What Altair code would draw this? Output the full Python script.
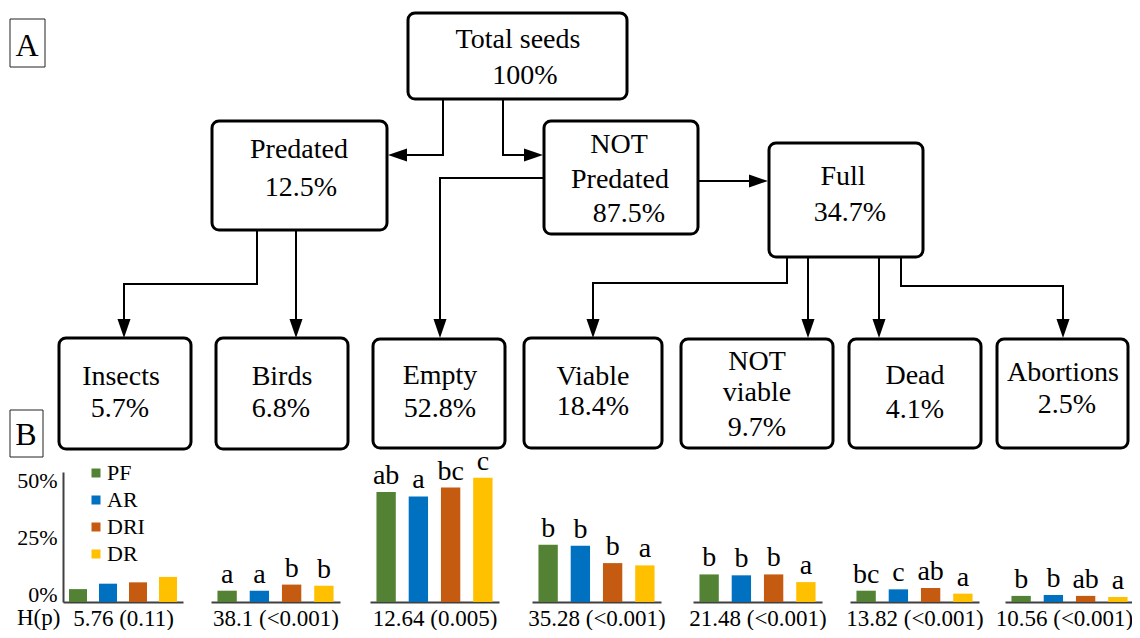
import altair as alt
import pandas as pd

# ---------------- data ----------------
SERIES = ["PF", "AR", "DRI", "DR"]
SERIES_COLORS = ["#548235", "#0070C0", "#C55A11", "#FFC000"]
CATEGORIES = ["Insects", "Birds", "Empty", "Viable", "NOT viable", "Dead", "Abortions"]
VALUES_PF = [5.7, 5.0, 48.7, 25.3, 12.2, 5.0, 2.7]
VALUES_AR = [8.1, 5.0, 46.7, 24.9, 11.8, 5.6, 3.1]
VALUES_DRI = [8.7, 7.7, 50.6, 17.2, 12.2, 6.2, 2.7]
VALUES_DR = [11.1, 7.2, 55.0, 16.2, 8.8, 3.7, 2.2]
LETTERS_PF = ["", "a", "ab", "b", "b", "bc", "b"]
LETTERS_AR = ["", "a", "a", "b", "b", "c", "b"]
LETTERS_DRI = ["", "b", "bc", "b", "b", "ab", "ab"]
LETTERS_DR = ["", "b", "c", "a", "a", "a", "a"]
H_STATS = ["5.76 (0.11)", "38.1 (<0.001)", "12.64 (0.005)", "35.28 (<0.001)",
           "21.48 (<0.001)", "13.82 (<0.001)", "10.56 (<0.001)"]
Y_TICKS = [0, 25, 50]

NODE_NAMES = ["Total seeds", "Predated", "NOT Predated", "Full", "Insects", "Birds",
              "Empty", "Viable", "NOT viable", "Dead", "Abortions"]
NODE_PCTS = [100, 12.5, 87.5, 34.7, 5.7, 6.8, 52.8, 18.4, 9.7, 4.1, 2.5]
PANEL_LABELS = ["A", "B"]

# ---------------- layout (page pixels) ----------------
NODE_BOXES = [
    (408, 627, 13, 99), (212, 387, 121, 230), (544, 698, 121, 234), (769, 923, 143, 257),
    (59, 191, 338, 449), (216, 348, 338, 449), (373, 505, 339, 448), (524, 662, 338, 448),
    (681, 833, 339, 448), (849, 981, 339, 448), (997, 1128, 339, 448),
]
NODE_TEXT_POS = [
    [(518, 48), (525, 84)],
    [(299, 158), (301, 196)],
    [(619, 153), (620, 188), (629, 222)],
    [(843, 185), (850, 221)],
    [(121, 385), (120, 417)],
    [(282, 385), (281, 417)],
    [(440, 384), (440, 417)],
    [(593, 385), (593, 415)],
    [(757, 370), (757, 401), (757, 436)],
    [(915, 384), (915, 418)],
    [(1063, 381), (1067, 413)],
]
PANEL_BOXES = [(10, 45, 19, 67), (10, 43, 410, 457)]
PANEL_TEXT_POS = [(27, 56), (26, 445)]
CONNECTORS = [
    [(443, 99), (443, 155), (395, 155)],
    [(503, 99), (503, 155), (535, 155)],
    [(544, 178), (440, 178), (440, 330)],
    [(698, 181), (760, 181)],
    [(257, 230), (257, 284), (124, 284), (124, 330)],
    [(296, 230), (296, 330)],
    [(787, 257), (787, 283), (593, 283), (593, 330)],
    [(808, 257), (808, 330)],
    [(879, 257), (879, 330)],
    [(901, 257), (901, 286), (1063, 286), (1063, 330)],
]
ARROW_TIPS = [(388, 155, "left"), (543, 155, "right"), (440, 338, "down"), (768, 181, "right"),
              (124, 338, "down"), (296, 338, "down"), (593, 338, "down"), (808, 338, "down"),
              (879, 338, "down"), (1063, 338, "down")]
GROUP_X0 = [63, 211, 370, 532, 693, 850, 1005]
GROUP_W = [120, 129, 129, 129, 129, 129, 129]
STAT_MAX_CENTER = 1064
BASE_Y = 602
TOP_Y = 472
STAT_BASELINE = 625

W, H = 1124, 622
FONT = "Liberation Serif"

PX = alt.Scale(domain=[8, 8 + W], nice=False, zero=False)
PY = alt.Scale(domain=[8, 8 + H], nice=False, zero=False, reverse=True)


def px(f):
    return alt.X(f, type="quantitative", scale=PX, axis=None)


def py(f):
    return alt.Y(f, type="quantitative", scale=PY, axis=None)


# ---------------- diagram tables ----------------
node_box_df = pd.DataFrame(NODE_BOXES, columns=["x0", "x1", "y0", "y1"])
panel_box_df = pd.DataFrame(PANEL_BOXES, columns=["x0", "x1", "y0", "y1"])

text_rows = []
for name, pct, pos in zip(NODE_NAMES, NODE_PCTS, NODE_TEXT_POS):
    lines = name.split(" ", 1) if name.startswith("NOT") else [name]
    lines = lines + [f"{pct:g}%"]
    for ln, (x, y) in zip(lines, pos):
        text_rows.append({"text": ln, "x": x, "y": y})
text_df = pd.DataFrame(text_rows)
panel_text_df = pd.DataFrame([{"text": t, "x": p[0], "y": p[1]} for t, p in zip(PANEL_LABELS, PANEL_TEXT_POS)])

line_rows = []
for i, path in enumerate(CONNECTORS):
    for j, (x, y) in enumerate(path):
        line_rows.append({"path": i, "order": j, "x": x, "y": y})
line_df = pd.DataFrame(line_rows)
arrow_df = pd.DataFrame(ARROW_TIPS, columns=["x", "y", "dir"])

ARROW_SHAPES = {
    "down": "M-0.65,-1.9L0.65,-1.9L0,0Z",
    "left": "M0,0L1.9,-0.65L1.9,0.65Z",
    "right": "M0,0L-1.9,-0.65L-1.9,0.65Z",
}

node_boxes = alt.Chart(node_box_df).mark_rect(
    fill="white", stroke="black", strokeWidth=3, cornerRadius=7
).encode(x=px("x0"), x2="x1", y=py("y0"), y2="y1")

panel_boxes = alt.Chart(panel_box_df).mark_rect(
    fill="white", stroke="#222222", strokeWidth=1
).encode(x=px("x0"), x2="x1", y=py("y0"), y2="y1")

lines = alt.Chart(line_df).mark_line(color="black", strokeWidth=2).encode(
    x=px("x"), y=py("y"), detail="path:N", order="order:Q"
)

arrows = alt.Chart(arrow_df).mark_point(filled=True, color="black", size=400, opacity=1, strokeWidth=0).encode(
    x=px("x"), y=py("y"),
    shape=alt.Shape("dir:N", scale=alt.Scale(domain=list(ARROW_SHAPES.keys()),
                                             range=list(ARROW_SHAPES.values())), legend=None),
)

node_text = alt.Chart(text_df).mark_text(
    font=FONT, fontSize=28, color="black", baseline="alphabetic", align="center"
).encode(x=px("x"), y=py("y"), text="text:N")

panel_text = alt.Chart(panel_text_df).mark_text(
    font=FONT, fontSize=32, color="black", baseline="alphabetic", align="center"
).encode(x=px("x"), y=py("y"), text="text:N")

hp_df = pd.DataFrame([{"text": "H(p)", "x": 17, "y": STAT_BASELINE}])
hp_text = alt.Chart(hp_df).mark_text(
    font=FONT, fontSize=23, color="black", baseline="alphabetic", align="left"
).encode(x=px("x"), y=py("y"), text="text:N")

diagram = alt.layer(node_boxes, panel_boxes, lines, arrows, node_text, panel_text, hp_text)

# ---------------- bar groups ----------------
rows = []
vals = [VALUES_PF, VALUES_AR, VALUES_DRI, VALUES_DR]
lets = [LETTERS_PF, LETTERS_AR, LETTERS_DRI, LETTERS_DR]
for ci, cat in enumerate(CATEGORIES):
    for si, s in enumerate(SERIES):
        rows.append({"category": cat, "series": s, "value": vals[si][ci], "letter": lets[si][ci]})
bar_df = pd.DataFrame(rows)

COLOR = alt.Color(
    "series:N",
    scale=alt.Scale(domain=SERIES, range=SERIES_COLORS),
    legend=alt.Legend(
        orient="none", legendX=77, legendY=454, title=None, symbolType="square",
        symbolSize=81, symbolStrokeWidth=0, labelFont=FONT, labelFontSize=22,
        labelColor="black", labelOffset=0, rowPadding=5, padding=0, direction="vertical",
    ),
)

Y_MAX = 57.5
groups = []
for i, cat in enumerate(CATEGORIES):
    x0 = GROUP_X0[i] - 8
    center = min(GROUP_X0[i] + GROUP_W[i] / 2, STAT_MAX_CENTER)
    xaxis = alt.Axis(
        orient="bottom", offset=-(8 + H - BASE_Y), domain=True, domainColor="#404040",
        domainWidth=2, ticks=False, labels=False, grid=False,
        title=H_STATS[i], titleFont=FONT, titleFontSize=23, titleFontWeight="normal",
        titleColor="black", titleBaseline="alphabetic", titleY=STAT_BASELINE - BASE_Y,
        titleX=center - 8, titleAlign="center", titleAnchor="start",
    )
    x = alt.X(
        "series:N", sort=SERIES,
        scale=alt.Scale(domain=SERIES, range=[x0, x0 + GROUP_W[i]], paddingInner=0.4, paddingOuter=0.2),
        axis=xaxis,
    )
    if i == 0:
        yaxis = alt.Axis(
            orient="left", offset=-(GROUP_X0[0] - 8), values=Y_TICKS, labelExpr="datum.value + '%'",
            domain=True, domainColor="#404040", domainWidth=2, ticks=False, grid=False,
            labelFont=FONT, labelFontSize=22, labelColor="black", labelPadding=6,
            labelOffset=-8, labelFlush=False, title=None,
        )
    else:
        yaxis = None
    y = alt.Y(
        "value:Q",
        scale=alt.Scale(domain=[0, Y_MAX], range=[BASE_Y - 8, TOP_Y - 8], nice=False, zero=True),
        axis=yaxis,
    )
    base = alt.Chart(bar_df).transform_filter(alt.datum.category == cat)
    bars = base.mark_bar().encode(x=x, y=y, color=COLOR)
    letters = base.mark_text(font=FONT, fontSize=28, color="black", baseline="alphabetic", dy=-8).encode(
        x=x, y=y, text="letter:N"
    )
    groups.append(alt.layer(bars, letters))

chart = alt.layer(diagram, *groups).resolve_scale(
    x="independent", y="independent"
).properties(
    width=W, height=H, padding=0, autosize=alt.AutoSizeParams(type="none")
).configure_view(stroke=None)

chart.save("out.html", embed_options={"renderer": "svg", "actions": False})
